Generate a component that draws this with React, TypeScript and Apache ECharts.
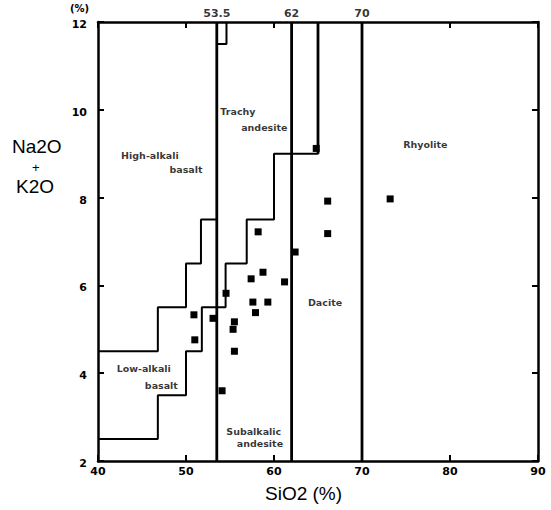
import React, { useEffect, useRef } from "react";
import * as echarts from "echarts";

// Axis ranges / ticks
const xRange = [40, 90];
const yRange = [2, 12];

// Field boundaries (SiO2, Na2O+K2O)
const verticalBoundaries = [53.5, 62, 70];
const highLowAlkaliStep = [
  [40, 4.5], [46.8, 4.5], [46.8, 5.5], [50, 5.5], [50, 6.5], [51.7, 6.5], [51.7, 7.5], [53.5, 7.5],
];
const lowAlkaliSubalkalicStep = [
  [40, 2.5], [46.8, 2.5], [46.8, 3.5], [50, 3.5], [50, 4.5], [51.8, 4.5], [51.8, 5.5],
  [53.5, 5.5], [54.5, 5.5], [54.5, 6.5], [56.9, 6.5], [56.9, 7.5], [60, 7.5], [60, 9],
  [65, 9], [65, 12],
];
const topNotch = [[53.5, 11.5], [54.6, 11.5], [54.6, 12]];

// Samples
const sampleSiO2 = [64.8, 66.1, 66.1, 73.2, 58.2, 62.4, 58.75, 57.4, 61.2, 54.55, 57.6, 59.3, 57.9, 50.9, 53.07, 55.5, 55.35, 51.0, 55.5, 54.1];
const sampleAlkali = [9.12, 7.92, 7.18, 7.97, 7.22, 6.76, 6.3, 6.15, 6.08, 5.82, 5.62, 5.62, 5.38, 5.33, 5.25, 5.17, 5.0, 4.76, 4.5, 3.6];

// Region labels
const regionNames = ["High-alkali", "basalt", "Trachy", "andesite", "Rhyolite", "Dacite", "Low-alkali", "basalt", "Subalkalic", "andesite"];
const regionX = [45.9, 50.0, 55.9, 58.9, 77.2, 65.8, 45.2, 47.2, 57.7, 58.4];
const regionY = [8.95, 8.63, 9.95, 9.59, 9.22, 5.6, 4.1, 3.73, 2.68, 2.39];

// Top boundary value marks
const topMarks = [53.5, 62, 70];

const FONT = "DejaVu Sans";

export default function App() {
  const ref = useRef<HTMLDivElement>(null);
  useEffect(() => {
    document.body.style.margin = "0";
    const chart = echarts.init(ref.current!, null, { renderer: "svg" });
    const lineStyleThin = { color: "#000", width: 2 };
    const series: any[] = [];
    verticalBoundaries.forEach((x) => {
      series.push({
        type: "line",
        data: [[x, yRange[0]], [x, yRange[1]]],
        symbol: "none",
        lineStyle: { color: "#000", width: 2.8 },
        silent: true,
      });
    });
    [highLowAlkaliStep, lowAlkaliSubalkalicStep].forEach((d) => {
      series.push({ type: "line", data: d, symbol: "none", lineStyle: lineStyleThin, silent: true });
    });
    series.push({ type: "line", data: [[65, 9], [65, 12]], symbol: "none", lineStyle: { color: "#000", width: 2.8 }, silent: true });
    series.push({ type: "line", data: topNotch, symbol: "none", lineStyle: lineStyleThin, silent: true });
    series.push({
      type: "scatter",
      data: sampleSiO2.map((x, i) => [x, sampleAlkali[i]]),
      symbol: "rect",
      symbolSize: 7,
      itemStyle: { color: "#000", opacity: 1 },
      z: 5,
    });
    series.push({
      type: "scatter",
      data: regionNames.map((n, i) => ({ name: n, value: [regionX[i], regionY[i]] })),
      symbolSize: 0,
      silent: true,
      label: {
        show: true,
        position: "inside",
        formatter: "{b}",
        color: "#000",
        fontFamily: FONT,
        fontWeight: "bold",
        fontSize: 9.5,
      },
    });
    series.push({
      type: "scatter",
      data: topMarks.map((x) => ({ name: String(x), value: [x, yRange[1]] })),
      symbolSize: 0,
      silent: true,
      clip: false,
      label: {
        show: true,
        position: "top",
        distance: 3,
        formatter: "{b}",
        color: "#000",
        fontFamily: FONT,
        fontWeight: "bold",
        fontSize: 11,
      },
    });

    const axisCommon = {
      axisLine: { show: true, lineStyle: { color: "#000", width: 2.5 } },
      axisTick: { show: true, inside: true, length: 6, lineStyle: { color: "#000", width: 2 } },
      splitLine: { show: false },
    };

    chart.setOption({
      animation: false,
      backgroundColor: "#fff",
      grid: { left: 98, right: 13, top: 22, bottom: 49 },
      xAxis: [
        {
          type: "value",
          min: xRange[0],
          max: xRange[1],
          interval: 10,
          position: "bottom",
          ...axisCommon,
          axisLabel: { color: "#000", fontFamily: FONT, fontWeight: "bold", fontSize: 11, margin: 5 },
        },
        {
          type: "value",
          min: xRange[0],
          max: xRange[1],
          interval: 10,
          position: "top",
          ...axisCommon,
          axisLabel: { show: false },
        },
      ],
      yAxis: [
        {
          type: "value",
          min: yRange[0],
          max: yRange[1],
          interval: 2,
          position: "left",
          ...axisCommon,
          axisLabel: {
            color: "#000", fontFamily: FONT, fontWeight: "bold", fontSize: 11, margin: 11,
            verticalAlign: "top",
            padding: [-3, 0, 0, 0],
          },
        },
        {
          type: "value",
          min: yRange[0],
          max: yRange[1],
          interval: 2,
          position: "right",
          ...axisCommon,
          axisLabel: { show: false },
        },
      ],
      graphic: [
        { type: "text", left: 70, top: 3, style: { text: "(%)", fontFamily: FONT, fontWeight: "bold", fontSize: 10, fill: "#000" } },
        { type: "text", left: 12, top: 137, style: { text: "Na2O", fontFamily: "Liberation Sans", fontSize: 19, fill: "#000" } },
        { type: "text", left: 32, top: 161, style: { text: "+", fontFamily: "Liberation Sans", fontSize: 13, fill: "#000" } },
        { type: "text", left: 16, top: 177, style: { text: "K2O", fontFamily: "Liberation Sans", fontSize: 19, fill: "#000" } },
        { type: "text", left: 265, top: 484, style: { text: "SiO2 (%)", fontFamily: "Liberation Sans", fontSize: 19, fill: "#000" } },
      ],
      series,
    });
    return () => chart.dispose();
  }, []);
  return <div ref={ref} style={{ width: 551, height: 510 }} />;
}
